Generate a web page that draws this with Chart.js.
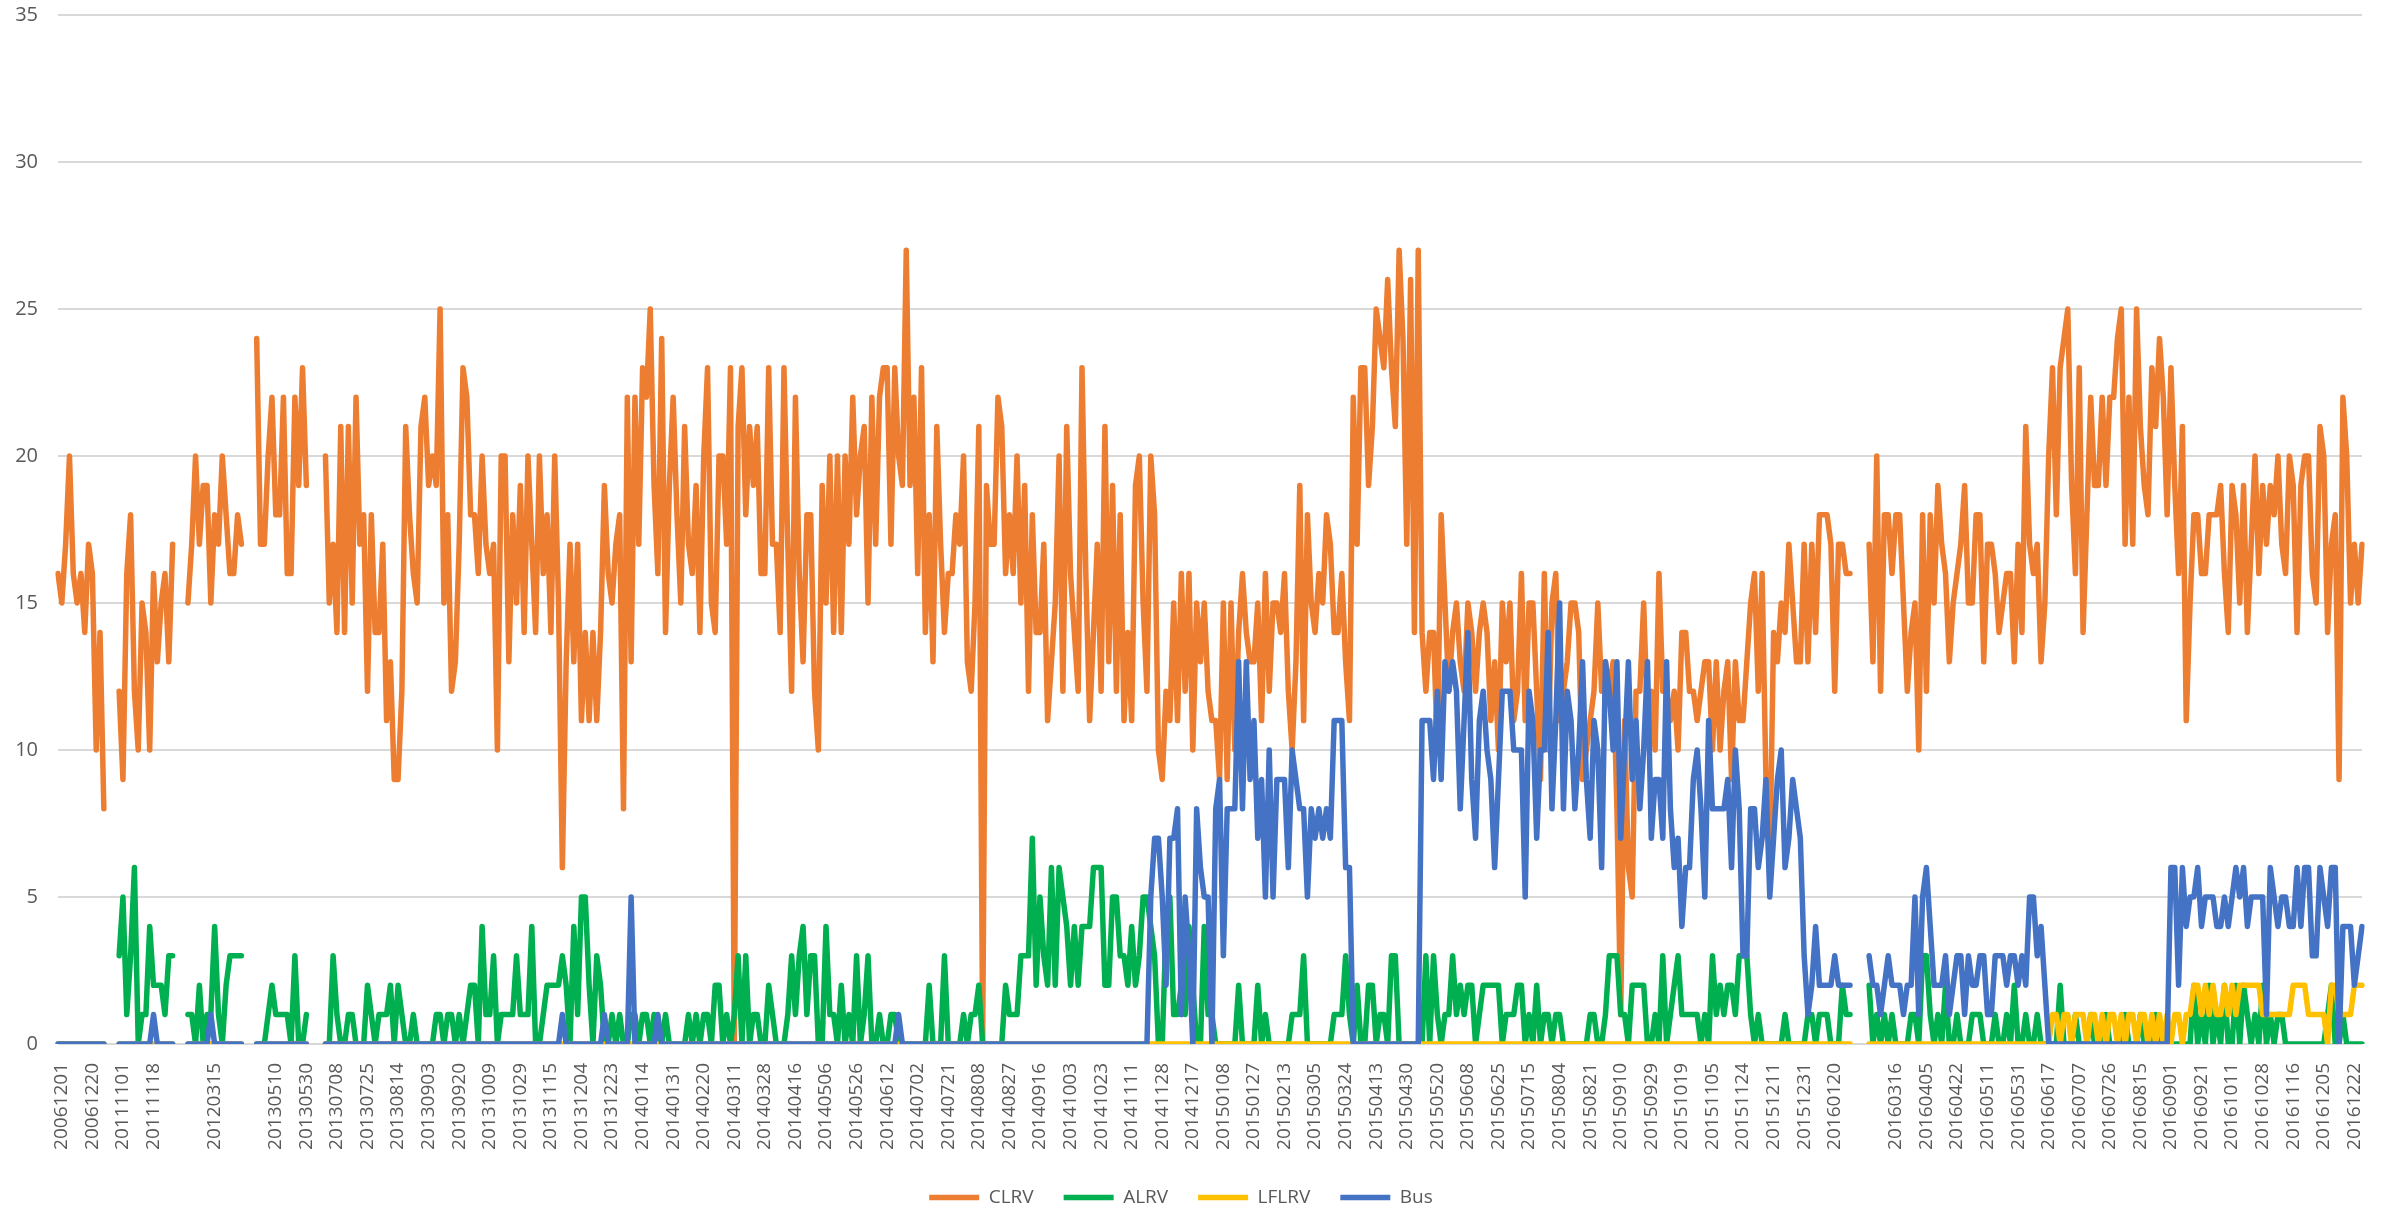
<!DOCTYPE html>
<html>
<head>
<meta charset="utf-8">
<script src="https://cdn.jsdelivr.net/npm/chart.js@4.4.1/dist/chart.umd.min.js"></script>
<style>
  html, body { margin: 0; padding: 0; background: #fff; }
</style>
</head>
<body>
<canvas id="myChart" width="2387" height="1217"></canvas>
<script>
// Axis labels: one shown every 8 points, "" where the sheet has a blank row
const tickLabels = ["20061201","20061220","20111101","20111118","","20120315","","20130510","20130530","20130708",
  "20130725","20130814","20130903","20130920","20131009","20131029","20131115","20131204","20131223","20140114",
  "20140131","20140220","20140311","20140328","20140416","20140506","20140526","20140612","20140702","20140721",
  "20140808","20140827","20140916","20141003","20141023","20141111","20141128","20141217","20150108","20150127",
  "20150213","20150305","20150324","20150413","20150430","20150520","20150608","20150625","20150715","20150804",
  "20150821","20150910","20150929","20151019","20151105","20151124","20151211","20151231","20160120","",
  "20160316","20160405","20160422","20160511","20160531","20160617","20160707","20160726","20160815","20160901",
  "20160921","20161011","20161028","20161116","20161205","20161222"];
const pointsPerLabel = 8;
const seriesNames = ["CLRV", "ALRV", "LFLRV", "Bus"];

const clrv = [
  16,15,17,20,16,15,16,14,17,16,10,14,8,
  null,null,null,
  12,9,16,18,12,10,15,14,10,16,13,15,16,13,17,
  null,null,null,
  15,17,20,17,19,19,15,18,17,20,18,16,16,18,17,
  null,null,null,
  24,17,17,20,22,18,18,22,16,16,22,19,23,19,
  null,null,null,null,
  20,15,17,14,21,14,21,15,22,17, 18,12,18,14,14,17,11,13,9,9, 12,21,18,16,15,21,22,19,20,19,
  25,15,18,12,13,17,23,22,18,18, 16,20,17,16,17,10,20,20,13,18, 15,19,14,
  20,17,14,20,16,18,14,20,15,6, 13,17,13,17,11,14,11,14,11,14, 19,16,15,17,18,8,22,13,22,17,
  23,22,25,19,16,24,14,19,22,18, 15,21,17,16,19,14,20,23,15,14, 20,20,17,23,0,21,23,18,21,19, 21,
  16,16,23,17,17,14,23,17,12,22, 16,13,18,18,12,10,19,15,20,14, 20,14,20,17,22,18,20,21,15,22,
  17,22,23,23,17,23,20,19,27,19, 22,16,23,14,18,13,21,17,14,16, 16,18,17,20,13,12,15,21,0,19, 17,
  17,22,21,16,18,16,20,15,19,12, 18,14,14,17,11,13,15,20,12,21, 16,14,12,23,16,11,14,17,12,21,
  13,19,12,18,11,14,11,19,20,15, 12,20,18,10,9,12,11,15,11,16, 12,16,10,15,13,15,12,11,11,9, 15,
  9,15,10,14,16,14,13,13,15,11, 16,12,15,15,14,16,12,10,13,19, 11,18,15,14,16,15,18,17,14,14,
  16,13,11,22,17,23,23,19,21,25, 24,23,26,23,21,27,24,17,26,14, 27,14,12,14,14,10,18,15,12,14, 15,13,
  12,15,14,12,14,15,14,11,13,10, 15,13,15,11,12,16,11,15,15,12, 9,16,10,15,16,11,12,13,15,15,
  14,9,10,11,12,15,12,13,12,13, 8,1,11,6,5,12,12,15,11,12, 10,16,12,12,11,12,10,14,14,12, 12,11,
  12,13,13,10,13,10,12,13,9,13, 11,11,13,15,16,12,16,9,6,14, 13,15,14,17,15,13,13,17,13,17,
  14,18,18,18,17,12,17,17,16,16,
  null,null,null,null,
  17,13,20,12,18,18,16,18,18,15,12,14,15,10,18,12,18,
  15,19,17,16,13,15,16,17,19,15, 15,18,18,13,17,17,16,14,15,16, 16,13,17,14,21,17,16,17,13,15,
  20,23,18,23,24,25,19,16,23,14, 18,22,19,19,22,19,22,22,24,25, 17,22,17,25,21,19,18,23,21,24, 22,18,
  23,19,16,21,11,15,18,18,16,16, 18,18,18,19,16,14,19,18,15,19, 14,17,20,16,19,17,19,18,20,17,
  16,20,19,14,19,20,20,16,15,21, 20,14,17,18,9,22,20,15,17,15, 17
];

const alrv = [
  0,0,0,0,0,0,0,0,0,0,0,0,0,
  null,null,null,
  3,5,1,3,6,0,1,1,4,2,2,2,1,3,3,
  null,null,null,
  1,1,0,2,0,1,1,4,1,0,2,3,3,3,3,
  null,null,null,
  0,0,0,1,2,1,1,1,1,0,3,0,0,1,
  null,null,null,null,
  0,0,3,1,0,0,1,1,0,0, 0,2,1,0,1,1,1,2,0,2, 1,0,0,1,0,0,0,0,0,1,
  1,0,1,1,0,1,0,1,2,2, 0,4,1,1,3,0,1,1,1,1, 3,1,1,
  1,4,0,0,1,2,2,2,2,3, 2,0,4,1,5,5,2,0,3,2, 0,0,1,0,1,0,0,1,1,0,
  1,1,0,1,0,0,1,0,0,0, 0,0,1,0,1,0,1,1,0,2, 2,0,1,0,1,3,0,3,0,1, 1,
  0,0,2,1,0,0,0,1,3,1, 3,4,1,3,3,0,0,4,1,1, 0,2,0,1,0,3,0,1,3,0,
  0,1,0,0,1,1,0,0,0,0, 0,0,0,0,2,0,0,0,3,0, 0,0,0,1,0,1,1,2,0,0, 0,
  0,0,0,2,1,1,1,3,3,3, 7,2,5,3,2,6,2,6,5,4, 2,4,2,4,4,4,6,6,6,2,
  2,5,5,3,3,2,4,2,3,5, 5,4,3,0,0,4,5,1,1,2, 1,4,2,0,0,4,1,1,0,0, 0,
  0,0,0,2,0,0,0,0,2,0, 1,0,0,0,0,0,0,1,1,1, 3,0,0,0,0,0,0,0,1,1,
  1,3,1,0,2,0,0,2,2,0, 1,1,0,3,3,0,0,0,0,0, 0,0,3,0,3,1,0,1,1,3, 1,2,
  1,2,2,0,1,2,2,2,2,2, 0,1,1,1,2,2,0,1,0,2, 0,1,1,0,1,1,0,0,0,0,
  0,0,0,1,1,0,0,1,3,3, 3,1,1,0,2,2,2,2,0,0, 1,0,3,0,1,2,3,1,1,1, 1,1,
  0,1,0,3,1,2,1,2,2,1, 3,3,3,1,0,1,0,0,0,0, 0,0,1,0,0,0,0,0,1,1,
  0,1,1,1,0,0,0,2,1,1,
  null,null,null,null,
  2,0,1,0,1,0,1,0,0,0,0,1,1,0,3,3,1,
  0,1,0,2,0,0,1,0,0,0, 1,1,1,0,0,0,1,0,0,1, 0,2,0,0,1,0,0,1,0,0,
  0,0,0,2,0,0,0,1,0,0, 0,1,0,0,0,1,0,0,0,0, 1,0,0,0,1,0,0,0,1,0, 0,0,
  0,0,0,0,0,0,2,0,1,0, 2,0,1,0,2,0,0,2,0,2, 1,0,1,0,2,0,1,0,1,1,
  0,0,0,0,0,0,0,0,0,0, 0,1,2,0,0,1,0,0,0,0, 0
];

const lflrv = [
  0,0,0,0,0,0,0,0,0,0,0,0,0,
  null,null,null,
  0,0,0,0,0,0,0,0,0,0,0,0,0,0,0,
  null,null,null,
  0,0,0,0,0,0,0,0,0,0,0,0,0,0,0,
  null,null,null,
  0,0,0,0,0,0,0,0,0,0,0,0,0,0,
  null,null,null,null,
  0,0,0,0,0,0,0,0,0,0, 0,0,0,0,0,0,0,0,0,0, 0,0,0,0,0,0,0,0,0,0,
  0,0,0,0,0,0,0,0,0,0, 0,0,0,0,0,0,0,0,0,0, 0,0,0,
  0,0,0,0,0,0,0,0,0,0, 0,0,0,0,0,0,0,0,0,0, 0,0,0,0,0,0,0,0,0,0,
  0,0,0,0,0,0,0,0,0,0, 0,0,0,0,0,0,0,0,0,0, 0,0,0,0,0,0,0,0,0,0, 0,
  0,0,0,0,0,0,0,0,0,0, 0,0,0,0,0,0,0,0,0,0, 0,0,0,0,0,0,0,0,0,0,
  0,0,0,0,0,0,0,0,0,0, 0,0,0,0,0,0,0,0,0,0, 0,0,0,0,0,0,0,0,0,0, 0,
  0,0,0,0,0,0,0,0,0,0, 0,0,0,0,0,0,0,0,0,0, 0,0,0,0,0,0,0,0,0,0,
  0,0,0,0,0,0,0,0,0,0, 0,0,0,0,0,0,0,0,0,0, 0,0,0,0,0,0,0,0,0,0, 0,
  0,0,0,0,0,0,0,0,0,0, 0,0,0,0,0,0,0,0,0,0, 0,0,0,0,0,0,0,0,0,0,
  0,0,0,0,0,0,0,0,0,0, 0,0,0,0,0,0,0,0,0,0, 0,0,0,0,0,0,0,0,0,0, 0,0,
  0,0,0,0,0,0,0,0,0,0, 0,0,0,0,0,0,0,0,0,0, 0,0,0,0,0,0,0,0,0,0,
  0,0,0,0,0,0,0,0,0,0, 0,0,0,0,0,0,0,0,0,0, 0,0,0,0,0,0,0,0,0,0, 0,0,
  0,0,0,0,0,0,0,0,0,0, 0,0,0,0,0,0,0,0,0,0, 0,0,0,0,0,0,0,0,0,0,
  0,0,0,0,0,0,0,0,0,0,
  null,null,null,null,
  0,0,0,0,0,0,0,0,0,0,0,0,0,0,0,0,0,
  0,0,0,0,0,0,0,0,0,0, 0,0,0,0,0,0,0,0,0,0, 0,0,0,0,0,0,0,0,0,0,
  0,1,1,0,1,1,0,1,1,1, 0,1,1,0,1,0,1,1,0,1, 0,1,1,0,1,1,0,1,0,1, 0,1,
  0,1,1,0,1,1,2,2,1,2, 1,2,1,1,2,1,2,1,2,2, 2,2,2,2,1,1,1,1,1,1,
  1,1,2,2,2,2,1,1,1,1, 1,0,2,2,1,1,1,1,2,2, 2
];

const bus = [
  0,0,0,0,0,0,0,0,0,0,0,0,0,
  null,null,null,
  0,0,0,0,0,0,0,0,0,1,0,0,0,0,0,
  null,null,null,
  0,0,0,0,0,0,1,0,0,0,0,0,0,0,0,
  null,null,null,
  0,0,0,0,0,0,0,0,0,0,0,0,0,0,
  null,null,null,null,
  0,0,0,0,0,0,0,0,0,0, 0,0,0,0,0,0,0,0,0,0, 0,0,0,0,0,0,0,0,0,0,
  0,0,0,0,0,0,0,0,0,0, 0,0,0,0,0,0,0,0,0,0, 0,0,0,
  0,0,0,0,0,0,0,0,0,1, 0,0,0,0,0,0,0,0,0,0, 1,0,0,0,0,0,0,5,0,0,
  0,0,0,0,1,0,0,0,0,0, 0,0,0,0,0,0,0,0,0,0, 0,0,0,0,0,0,0,0,0,0, 0,
  0,0,0,0,0,0,0,0,0,0, 0,0,0,0,0,0,0,0,0,0, 0,0,0,0,0,0,0,0,0,0,
  0,0,0,0,0,0,1,0,0,0, 0,0,0,0,0,0,0,0,0,0, 0,0,0,0,0,0,0,0,0,0, 0,
  0,0,0,0,0,0,0,0,0,0, 0,0,0,0,0,0,0,0,0,0, 0,0,0,0,0,0,0,0,0,0,
  0,0,0,0,0,0,0,0,0,0, 0,5,7,7,5,2,7,7,8,1, 5,3,0,8,6,5,5,0,8,9, 3,
  8,8,8,13,8,13,9,11,7,9, 5,10,5,9,9,9,6,10,9,8, 8,5,8,7,8,7,8,7,11,11,
  11,6,6,0,0,0,0,0,0,0, 0,0,0,0,0,0,0,0,0,0, 0,11,11,11,9,12,9,13,12,13, 12,8,
  11,14,9,7,11,12,10,9,6,9, 12,12,12,10,10,10,5,12,11,7, 10,10,14,8,11,15,8,12,11,8,
  10,13,9,7,11,10,6,13,12,10, 13,7,10,13,9,11,8,10,13,7, 9,9,7,13,8,6,7,4,6,6, 9,10,
  8,5,11,8,8,8,8,9,6,10, 8,3,3,8,8,6,7,9,5,7, 9,10,6,7,9,8,7,3,1,2,
  4,2,2,2,2,3,2,2,2,2,
  null,null,null,null,
  3,2,2,1,2,3,2,2,2,1,2,2,5,1,5,6,4,
  2,2,2,3,1,2,3,3,1,3, 2,2,3,3,1,1,3,3,3,2, 3,3,2,3,2,5,5,3,4,2,
  0,0,0,0,0,0,0,0,0,0, 0,0,0,0,0,0,0,0,0,0, 0,0,0,0,0,0,0,0,0,0, 0,0,
  6,6,2,6,4,5,5,6,4,5, 5,5,4,4,5,4,5,6,5,6, 4,5,5,5,5,1,6,5,4,5,
  5,4,4,6,4,6,6,3,3,6, 5,4,6,6,0,4,4,4,2,3, 4
];

const pointCount = (tickLabels.length - 1) * pointsPerLabel + 4;
[clrv, alrv, lflrv, bus].forEach((s, k) => {
  if (s.length !== pointCount) throw new Error(seriesNames[k] + " has " + s.length + " points, expected " + pointCount);
});

// one category per point, with a date label on every 8th one
const categories = [];
for (let i = 0; i < pointCount; i++) {
  categories.push((i - 1) % pointsPerLabel === 0 ? tickLabels[(i - 1) / pointsPerLabel] : "");
}

const fontFamily = "'Open Sans', 'Noto Sans', sans-serif";
const textColor = "#595959";

function lineSet(label, data, color, order) {
  return {
    label: label,
    data: data,
    borderColor: color,
    backgroundColor: color,
    borderWidth: 5.5,
    pointRadius: 0,
    pointHoverRadius: 0,
    tension: 0,
    spanGaps: false,
    borderJoinStyle: 'round',
    borderCapStyle: 'round',
    order: order
  };
}

const ctx = document.getElementById('myChart');
new Chart(ctx, {
  type: 'line',
  data: {
    labels: categories,
    datasets: [
      lineSet(seriesNames[0], clrv, '#ED7D31', 4),
      lineSet(seriesNames[1], alrv, '#00B050', 3),
      lineSet(seriesNames[2], lflrv, '#FFC000', 2),
      lineSet(seriesNames[3], bus, '#4472C4', 1)
    ]
  },
  options: {
    responsive: false,
    animation: false,
    devicePixelRatio: 1,
    layout: { padding: { left: 0, right: 25, top: 0, bottom: 0 } },
    plugins: {
      legend: {
        position: 'bottom',
        reverse: true,
        labels: {
          usePointStyle: true,
          pointStyle: 'line',
          pointStyleWidth: 50,
          color: textColor,
          font: { family: fontFamily, size: 19 },
          padding: 30
        }
      },
      tooltip: { enabled: false }
    },
    scales: {
      x: {
        grid: { display: false },
        border: { display: false },
        ticks: {
          autoSkip: false,
          maxRotation: 90,
          minRotation: 90,
          padding: 11,
          color: textColor,
          font: { family: fontFamily, size: 19 }
        },
        afterFit: function(scale) {
          scale.height = 114;
          scale.paddingLeft = 0;
          scale.paddingRight = 25;
        }
      },
      y: {
        min: 0,
        max: 35,
        ticks: {
          stepSize: 5,
          padding: 20,
          color: textColor,
          font: { family: fontFamily, size: 20 }
        },
        grid: { color: '#D9D9D9', lineWidth: 2, drawTicks: false },
        border: { display: false },
        afterFit: function(scale) {
          scale.width = 58;
          scale.paddingTop = 15;
          scale.paddingBottom = 0;
        }
      }
    }
  }
});
</script>
</body>
</html>
